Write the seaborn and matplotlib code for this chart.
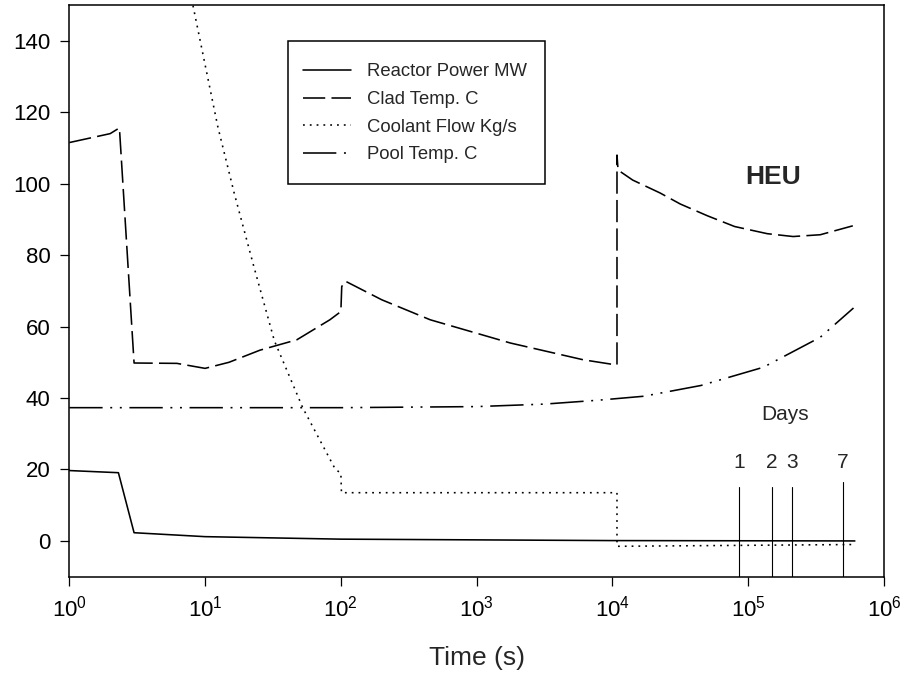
import numpy as np
import pandas as pd
import matplotlib
matplotlib.use("Agg")
import matplotlib.pyplot as plt
import seaborn as sns
from matplotlib.patches import Rectangle
from matplotlib.ticker import FixedLocator, FuncFormatter, NullLocator

# ---------------- data ----------------
power_t = [1, 2.3, 3.0, 10, 100, 1000, 1e4, 6.1e5]
power = [19.7, 19.1, 2.3, 1.2, 0.5, 0.3, 0.1, 0.0]

clad_t = [1, 2.0, 2.34, 3.0, 6.2, 10, 15, 25.4, 47.4, 83, 100, 101.5, 108, 200, 455,
          1770, 6100, 1.05e4, 1.08e4, 1.08e4, 1.1e4, 1.41e4, 2.24e4, 3.16e4, 5.01e4,
          7.94e4, 1.38e5, 2.14e5, 3.39e5, 5.89e5]
clad = [111.5, 114, 115.6, 49.8, 49.7, 48.3, 50, 53.4, 56.3, 61.9, 64.2, 71.2, 72.7, 67.5, 61.9,
        55.4, 50.7, 49.3, 49.3, 108, 103.8, 101, 97.4, 94.3, 91,
        88, 86, 85.2, 85.7, 88.2]

cool_t = [7.08, 8.13, 12.4, 16.4, 22.9, 32.4, 52.5, 91.2, 100, 101, 1.08e4, 1.08e4, 6.1e5]
cool = [161, 150, 116, 97.3, 76.7, 56, 37.2, 20, 19, 13.5, 13.5, -1.5, -1.0]

pool_t = [1, 10, 100, 1000, 3160, 7940, 1.7e4, 4.47e4, 1.29e5, 3.39e5, 5.96e5]
pool = [37.3, 37.3, 37.3, 37.6, 38.3, 39.4, 40.5, 43.5, 48.6, 57, 65.2]

series_names = ["Reactor Power MW", "Clad Temp. C", "Coolant Flow Kg/s", "Pool Temp. C"]

day_x = [8.61e4, 1.5e5, 2.1e5, 5.0e5]
day_top = [15, 15, 15, 16.5]
day_labels = ["1", "2", "3", "7"]

x_ticks = [1, 10, 100, 1000, 1e4, 1e5, 1e6]
y_ticks = [0, 20, 40, 60, 80, 100, 120, 140]

# ---------------- style ----------------
sns.set_style("ticks")
plt.rcParams["font.family"] = ["Liberation Sans", "DejaVu Sans"]
plt.rcParams["mathtext.fontset"] = "custom"
plt.rcParams["mathtext.rm"] = "Liberation Sans"
plt.rcParams["mathtext.it"] = "Liberation Sans"
plt.rcParams["mathtext.default"] = "regular"
plt.rcParams["lines.scale_dashes"] = False

fig = plt.figure(figsize=(9.08, 6.77), dpi=100)
ax = fig.add_axes([0.0763, 0.1482, 0.9736 - 0.0763, 0.9926 - 0.1482])

lw = 1.15
styles = ["-", (0, (16, 4.5)), (0, (1.3, 3.6)), (0, (24, 5.5, 1.4, 5.5, 1.4, 5.5))]
datasets = [(power_t, power), (clad_t, clad), (cool_t, cool), (pool_t, pool)]
for (t, v), name, ls in zip(datasets, series_names, styles):
    df = pd.DataFrame({"t": t, "v": v})
    sns.lineplot(data=df, x="t", y="v", ax=ax, estimator=None, sort=False,
                 color="black", lw=lw, linestyle=ls, label=name)

# day marker lines
for dx, top, lab in zip(day_x, day_top, day_labels):
    sns.lineplot(x=[dx, dx], y=[-10, top], ax=ax, estimator=None, sort=False,
                 color="black", lw=0.8)
    ax.text(dx, 22, lab, ha="center", va="center", fontsize=15)
ax.text(1.88e5, 35.5, "Days", ha="center", va="center", fontsize=15)
ax.text(1.53e5, 102, "HEU", ha="center", va="center", fontsize=19, fontweight="bold")

ax.set_xscale("log")
ax.set_xlim(1, 1e6)
ax.set_ylim(-10, 150)
ax.xaxis.set_major_locator(FixedLocator(x_ticks))
ax.xaxis.set_minor_locator(NullLocator())
ax.xaxis.set_major_formatter(FuncFormatter(lambda v, p: r"$\mathregular{10^{%d}}$" % int(round(np.log10(v)))))
ax.yaxis.set_major_locator(FixedLocator(y_ticks))
ax.tick_params(axis="both", which="major", direction="out", length=6.5, width=0.9,
               labelsize=16, pad=7, colors="black")
for s in ax.spines.values():
    s.set_visible(True)
    s.set_linewidth(1.1)
    s.set_color("black")

ax.set_xlabel("Time (s)", fontsize=19, labelpad=18)
ax.set_ylabel("")

# legend: entries without frame, frame drawn as a rectangle in axes coords
leg = ax.legend(loc="upper left", bbox_to_anchor=(0.2868, 0.898), borderaxespad=0,
                fontsize=13.3, frameon=False, handlelength=2.6, handletextpad=0.85,
                labelspacing=0.58, borderpad=0.0)
ax.add_patch(Rectangle((0.2687, 0.6869), 0.3153, 0.2501, transform=ax.transAxes,
                       fill=False, edgecolor="black", lw=1.1, zorder=5))

fig.savefig("out.png", dpi=100)
